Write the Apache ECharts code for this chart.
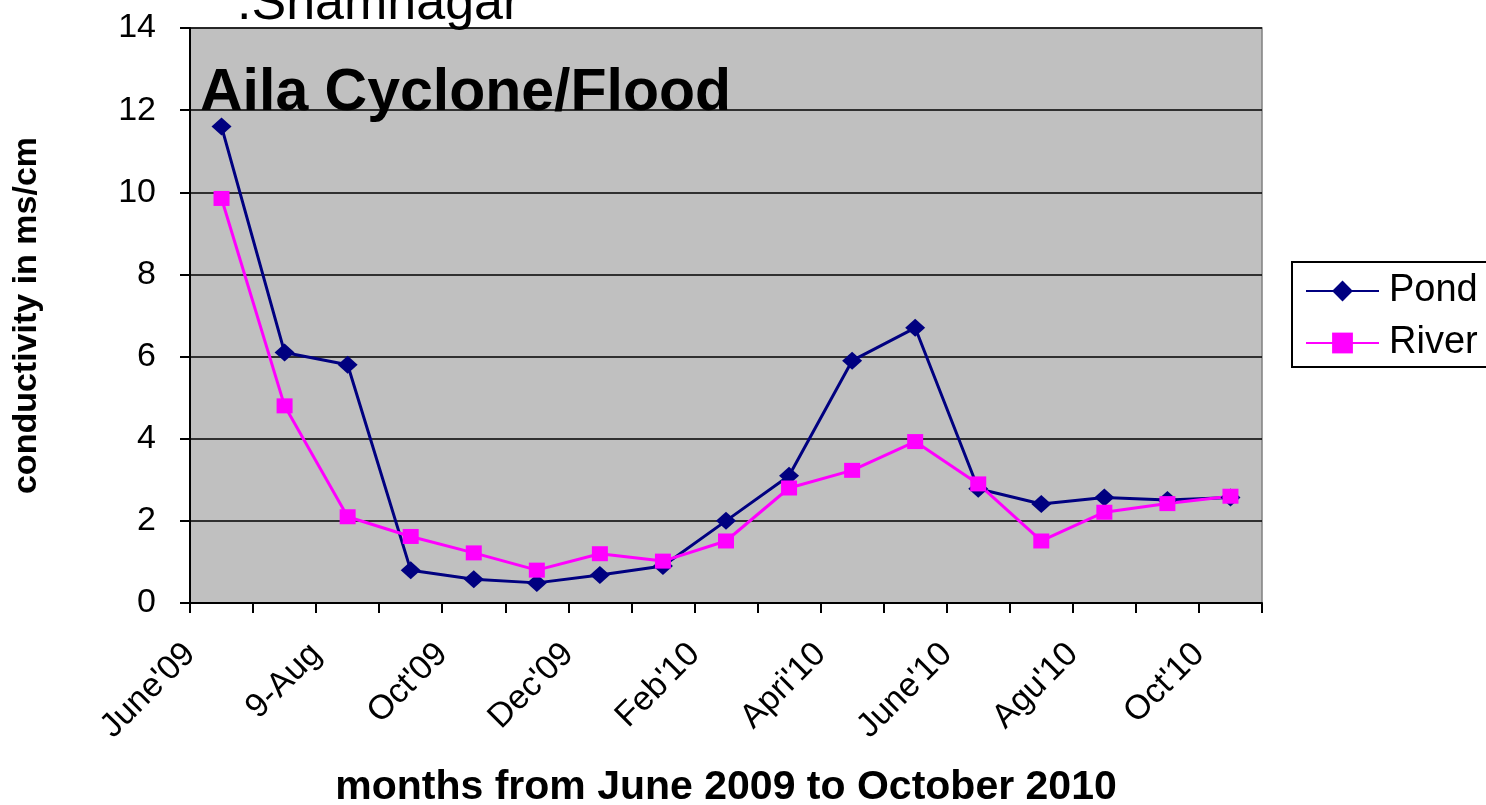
<!DOCTYPE html>
<html>
<head>
<meta charset="utf-8">
<script src="https://cdn.jsdelivr.net/npm/echarts@6/dist/echarts.min.js"></script>
<style>
  html, body { margin: 0; padding: 0; background: #fff; }
  #chart { width: 1486px; height: 805px; }
</style>
</head>
<body>
<div id="chart"></div>
<script>
// Monthly sampling, June 2009 – October 2010
const months = ["Jun 09", "Jul 09", "Aug 09", "Sep 09", "Oct 09", "Nov 09", "Dec 09", "Jan 10", "Feb 10",
                "Mar 10", "Apr 10", "May 10", "Jun 10", "Jul 10", "Aug 10", "Sep 10", "Oct 10"];
// Labels shown at every second month boundary
const tickLabels = ["June'09", "9-Aug", "Oct'09", "Dec'09", "Feb'10", "Apri'10", "June'10", "Agu'10", "Oct'10"];
// Conductivity (ms/cm)
const pond  = [11.6, 6.1, 5.8, 0.8, 0.58, 0.49, 0.68, 0.9, 2.0, 3.1, 5.9, 6.7, 2.78, 2.41, 2.57, 2.51, 2.57];
const river = [9.85, 4.8, 2.1, 1.62, 1.22, 0.8, 1.2, 1.02, 1.51, 2.8, 3.23, 3.93, 2.9, 1.51, 2.21, 2.42, 2.6];

const chart = echarts.init(document.getElementById('chart'));
const font = 'Liberation Sans, Arial, sans-serif';

chart.setOption({
  backgroundColor: '#ffffff',
  animation: false,
  textStyle: { fontFamily: font, color: '#000' },
  graphic: [
    { type: 'text', left: 237, top: -21, style: { text: '.Shamnagar', font: '52px ' + font, fill: '#000' } },
    { type: 'text', left: 200, top: 64, z: 10, style: { text: 'Aila Cyclone/Flood', font: 'bold 59px ' + font, fill: '#000' } }
  ],
  legend: {
    left: 1292, top: 262,
    orient: 'vertical',
    backgroundColor: '#ffffff',
    borderColor: '#000',
    borderWidth: 2,
    borderRadius: 0,
    padding: [9, 40, 4, 13],
    itemWidth: 73, itemHeight: 26, itemGap: 12,
    textStyle: { fontSize: 38, lineHeight: 40, fontFamily: font, color: '#000', padding: [0, 0, 0, 5] },
    data: ['Pond', 'River']
  },
  grid: {
    left: 190, top: 28, right: 224, bottom: 202,
    outerBoundsMode: 'none',
    show: true, backgroundColor: '#c0c0c0', borderColor: '#808080', borderWidth: 1.5
  },
  xAxis: {
    type: 'value', min: 0, max: 17, interval: 1,
    name: 'months from June 2009 to October 2010',
    nameLocation: 'middle', nameGap: 164,
    nameTextStyle: { fontSize: 41, fontWeight: 'bold', fontFamily: font, color: '#000' },
    axisLine: { onZero: false, lineStyle: { color: '#000', width: 2 } },
    axisTick: { length: 10, lineStyle: { color: '#000', width: 2 } },
    splitLine: { show: false },
    axisLabel: {
      rotate: 45, fontSize: 34, margin: 46, color: '#000', fontFamily: font,
      showMaxLabel: true, showMinLabel: true, hideOverlap: false,
      formatter: v => (v % 2 === 0 && v / 2 < tickLabels.length) ? tickLabels[v / 2] : ''
    }
  },
  yAxis: {
    type: 'value', min: 0, max: 14, interval: 2,
    name: 'conductivity in ms/cm',
    nameLocation: 'middle', nameGap: 146,
    nameTextStyle: { fontSize: 34, fontWeight: 'bold', fontFamily: font, color: '#000' },
    axisLine: { show: true, lineStyle: { color: '#000', width: 2 } },
    axisTick: { show: true, length: 10, lineStyle: { color: '#000', width: 2 } },
    axisLabel: { fontSize: 34, margin: 34, color: '#000', fontFamily: font },
    splitLine: { lineStyle: { color: '#000', width: 1.6 } }
  },
  series: [
    {
      name: 'Pond', type: 'line',
      data: pond.map((v, i) => [i + 0.5, v]),
      symbol: 'diamond', symbolSize: [20, 18],
      lineStyle: { color: '#000080', width: 3 },
      itemStyle: { color: '#000080' }
    },
    {
      name: 'River', type: 'line',
      data: river.map((v, i) => [i + 0.5, v]),
      symbol: 'rect', symbolSize: [16, 15],
      lineStyle: { color: '#ff00ff', width: 3 },
      itemStyle: { color: '#ff00ff' }
    }
  ]
});
</script>
</body>
</html>
